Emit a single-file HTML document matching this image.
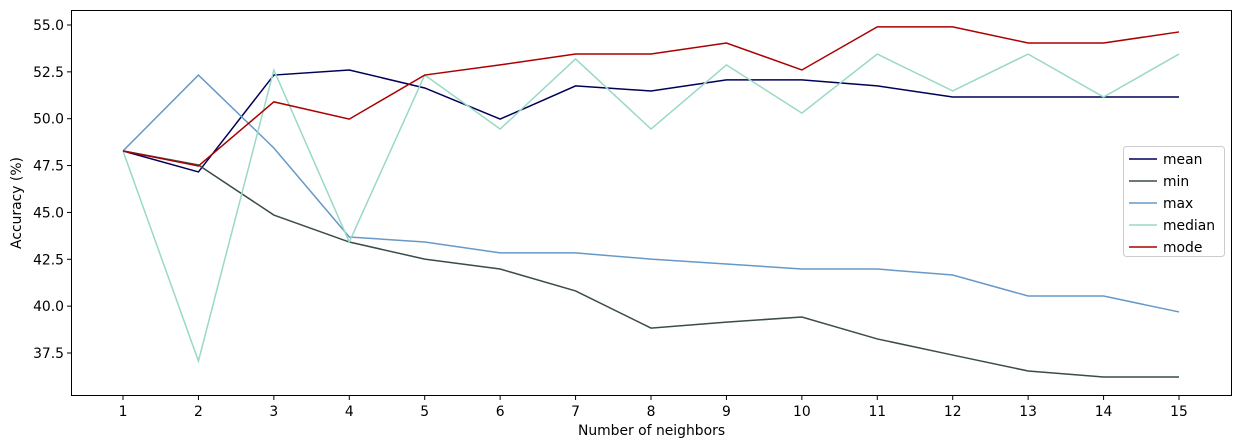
<!DOCTYPE html>
<html><head><meta charset="utf-8">
<style>
body{margin:0;background:#fff;}
svg{display:block;font-family:"DejaVu Sans","Liberation Sans",sans-serif;}
</style></head>
<body>
<svg id="chart" width="1242" height="448" xmlns="http://www.w3.org/2000/svg"></svg>
<script>
const categories=[1,2,3,4,5,6,7,8,9,10,11,12,13,14,15];
const meanValues=[48.28,47.16,52.33,52.6,51.64,49.98,51.75,51.48,52.07,52.07,51.75,51.16,51.16,51.16,51.16];
const minValues=[48.28,47.53,44.86,43.42,42.51,41.98,40.81,38.83,39.15,39.42,38.25,37.39,36.54,36.22,36.22];
const maxValues=[48.28,52.33,48.44,43.69,43.42,42.84,42.84,42.51,42.25,41.98,41.98,41.66,40.54,40.54,39.69];
const medianValues=[48.28,37.07,52.6,43.42,52.33,49.45,53.19,49.45,52.87,50.3,53.45,51.48,53.45,51.16,53.45];
const modeValues=[48.28,47.48,50.9,49.98,52.33,52.87,53.45,53.45,54.04,52.6,54.9,54.9,54.04,54.04,54.63];
const yTicks=[37.5,40.0,42.5,45.0,47.5,50.0,52.5,55.0];
const seriesNames=["mean","min","max","median","mode"];

const NS="http://www.w3.org/2000/svg";
const svg=document.getElementById('chart');
const L=71,R=1232,T=10,B=396;
const FS=13.9;
function xs(v){return 123+(v-1)*(1179-123)/14;}
function ys(v){return 25+(55-v)*(328/17.5);}
function mk(tag,attrs,parent){const e=document.createElementNS(NS,tag);for(const k in attrs)e.setAttribute(k,attrs[k]);(parent||svg).appendChild(e);return e;}

const series=[[meanValues,"#000057"],[minValues,"#3b4d44"],[maxValues,"#6699c7"],[medianValues,"#99d9c6"],[modeValues,"#aa0000"]];
series.forEach((s,i)=>{
  const p=mk('polyline',{points:s[0].map((v,j)=>xs(categories[j])+','+ys(v)).join(' '),fill:'none',stroke:s[1],'stroke-width':1.5});
  
  
});
const frame=mk('rect',{x:L+.5,y:T+.5,width:R-L-1,height:B-T-1,fill:'none',stroke:'#000','stroke-width':1});


categories.forEach(c=>{
  const x=xs(c);
  mk('line',{x1:x,x2:x,y1:B,y2:B+4,stroke:'#000'});
  const t=mk('text',{x:x,y:B+20,'text-anchor':'middle','font-size':FS,fill:'#000'});t.textContent=c;
  
  
});
yTicks.forEach(v=>{
  const y=ys(v);
  mk('line',{x1:L-4,x2:L,y1:y,y2:y,stroke:'#000'});
  const t=mk('text',{x:L-7,y:y+5,'text-anchor':'end','font-size':FS,fill:'#000'});t.textContent=v.toFixed(1);
  
  
});
const xt=mk('text',{x:(L+R)/2,y:435,'text-anchor':'middle','font-size':FS});xt.textContent='Number of neighbors';


const yt=mk('text',{x:21,y:(T+B)/2,'text-anchor':'middle','font-size':FS,transform:'rotate(-90 21 '+(T+B)/2+')'});yt.textContent='Accuracy (%)';


const lg=mk('g',{});


mk('rect',{x:1123.5,y:146.5,width:101,height:110,rx:3,fill:'#fff',stroke:'#ccc'},lg);
series.forEach((s,i)=>{
  const y=159+i*22;
  const g=mk('g',{},lg);
  
  
  mk('line',{x1:1129,x2:1157,y1:y,y2:y,stroke:s[1],'stroke-width':1.5},g);
  const t=mk('text',{x:1163,y:y+5,'font-size':FS},g);t.textContent=seriesNames[i];
});
</script>
</body></html>
